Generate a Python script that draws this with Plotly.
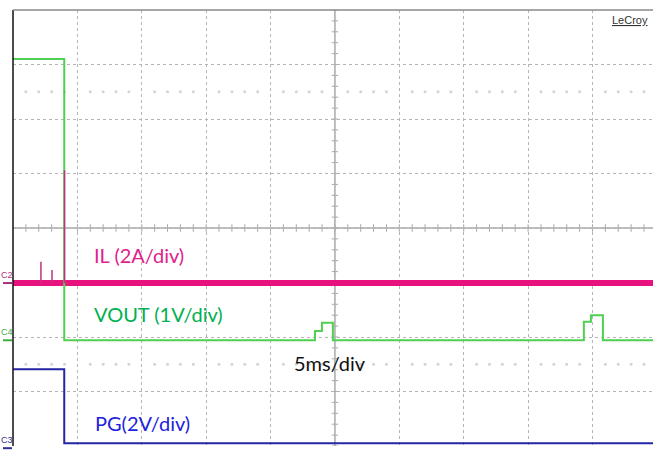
import plotly.graph_objects as go

# ---------------- data (time in ms, amplitude in screen divisions) ----------------
time_per_div_ms = 5
x_max_ms = 49.7
y_divs = 4

vout_t = [0, 3.98, 3.98, 23.45, 23.45, 23.99, 23.99, 24.84, 24.84,
          44.33, 44.33, 44.88, 44.88, 45.81, 45.81, 49.7]
vout_v = [3.10, 3.10, -2.06, -2.06, -1.89, -1.89, -1.74, -1.74, -2.06,
          -2.06, -1.72, -1.72, -1.60, -1.60, -2.06, -2.06]

il_t = [0, 49.7]
il_v = [-1.01, -1.01]
il_spike_t = [2.17, 2.17, None, 3.03, 3.03, None, 4.0, 4.0]
il_spike_v = [-1.01, -0.62, None, -1.01, -0.77, None, -1.01, 1.06]

pg_t = [0, 3.98, 3.98, 49.7]
pg_v = [-2.59, -2.59, -3.95, -3.95]

channel_names = ["C2", "C4", "C3"]
channel_levels = [-1.01, -2.06, -4.04]
channel_colors = ["#a8307a", "#3fae3f", "#303090"]

labels = ["IL (2A/div)", "VOUT (1V/div)", "5ms/div", "PG(2V/div)"]
label_t = [6.1, 6.1, 21.7, 6.2]
label_v = [-0.50, -1.57, -2.48, -3.57]
label_colors = ["#e0208c", "#00b050", "#111111", "#2222dd"]

# ---------------- figure ----------------
fig = go.Figure()

# faint dot rows (scope graticule artifacts)
dot_t = [i for i in range(1, 50) if i % 5 != 0]
for row in (2.5, -2.5):
    fig.add_trace(go.Scatter(x=dot_t, y=[row] * len(dot_t), mode="markers",
                             marker=dict(size=3, color="#d4d4d4"),
                             hoverinfo="skip", showlegend=False))

fig.add_trace(go.Scatter(x=il_t, y=il_v, mode="lines",
                         line=dict(color="#e8127f", width=6), showlegend=False))
fig.add_trace(go.Scatter(x=vout_t, y=vout_v, mode="lines",
                         line=dict(color="#50d050", width=2), showlegend=False))
fig.add_trace(go.Scatter(x=il_spike_t, y=il_spike_v, mode="lines",
                         line=dict(color="#c0307e", width=1.5), showlegend=False))
fig.add_trace(go.Scatter(x=pg_t, y=pg_v, mode="lines",
                         line=dict(color="#2525a8", width=2), showlegend=False))

shapes = []
center_t = 25
shapes.append(dict(type="line", xref="x", yref="y", x0=center_t, x1=center_t,
                   y0=-y_divs, y1=y_divs, line=dict(color="#aaaaaa", width=1.5),
                   layer="below"))
shapes.append(dict(type="line", xref="x", yref="y", x0=0, x1=x_max_ms,
                   y0=0, y1=0, line=dict(color="#aaaaaa", width=1.5), layer="below"))
# minor ticks on center lines
for i in range(1, 50):
    shapes.append(dict(type="line", xref="x", yref="y", x0=i, x1=i, y0=-0.07, y1=0.07,
                       line=dict(color="#aaaaaa", width=1), layer="below"))
for k in range(-20, 21):
    yv = k * 0.2
    shapes.append(dict(type="line", xref="x", yref="y", x0=center_t - 0.25,
                       x1=center_t + 0.25, y0=yv, y1=yv,
                       line=dict(color="#aaaaaa", width=1), layer="below"))
# left black border and top gray border
shapes.append(dict(type="line", xref="paper", yref="paper", x0=0, x1=0, y0=0, y1=1,
                   line=dict(color="#111111", width=1.5)))
shapes.append(dict(type="line", xref="paper", yref="paper", x0=0, x1=1, y0=1, y1=1,
                   line=dict(color="#8a8a8a", width=1.5)))

annotations = []
px_w = 640.0
for name, lvl, col in zip(channel_names, channel_levels, channel_colors):
    yp = (lvl + y_divs) / (2 * y_divs)
    shapes.append(dict(type="line", xref="paper", yref="paper",
                       x0=-10 / px_w, x1=-1 / px_w, y0=yp, y1=yp,
                       line=dict(color=col, width=2)))
    annotations.append(dict(x=-6 / px_w, y=yp, xref="paper", yref="paper",
                            text=name, showarrow=False, xanchor="center",
                            yanchor="bottom", yshift=1,
                            font=dict(family="Liberation Sans", size=9, color=col)))

for txt, t, v, col in zip(labels, label_t, label_v, label_colors):
    annotations.append(dict(x=t, y=v, xref="x", yref="y", text=txt, showarrow=False,
                            xanchor="left", yanchor="middle",
                            font=dict(family="Lato", size=20, color=col)))

annotations.append(dict(x=1, y=1, xref="paper", yref="paper", text="<u>LeCroy</u>",
                        showarrow=False, xanchor="right", yanchor="top",
                        xshift=-3, yshift=-2,
                        font=dict(family="Liberation Sans", size=11, color="#333333")))

fig.update_layout(
    width=653, height=450,
    margin=dict(l=13, r=0, t=10, b=4),
    paper_bgcolor="white", plot_bgcolor="white",
    showlegend=False,
    shapes=shapes, annotations=annotations,
    xaxis=dict(range=[0, x_max_ms], dtick=time_per_div_ms, showticklabels=False,
               showgrid=True, gridcolor="#b5b5b5", griddash="dot", gridwidth=1,
               zeroline=False, showline=False, ticks=""),
    yaxis=dict(range=[-y_divs, y_divs], dtick=1, showticklabels=False,
               showgrid=True, gridcolor="#b5b5b5", griddash="dot", gridwidth=1,
               zeroline=False, showline=False, ticks=""),
)

fig.write_html("out.html", config={"displayModeBar": False},
               post_script="document.body.style.margin='0px';document.body.style.overflow='hidden';")
